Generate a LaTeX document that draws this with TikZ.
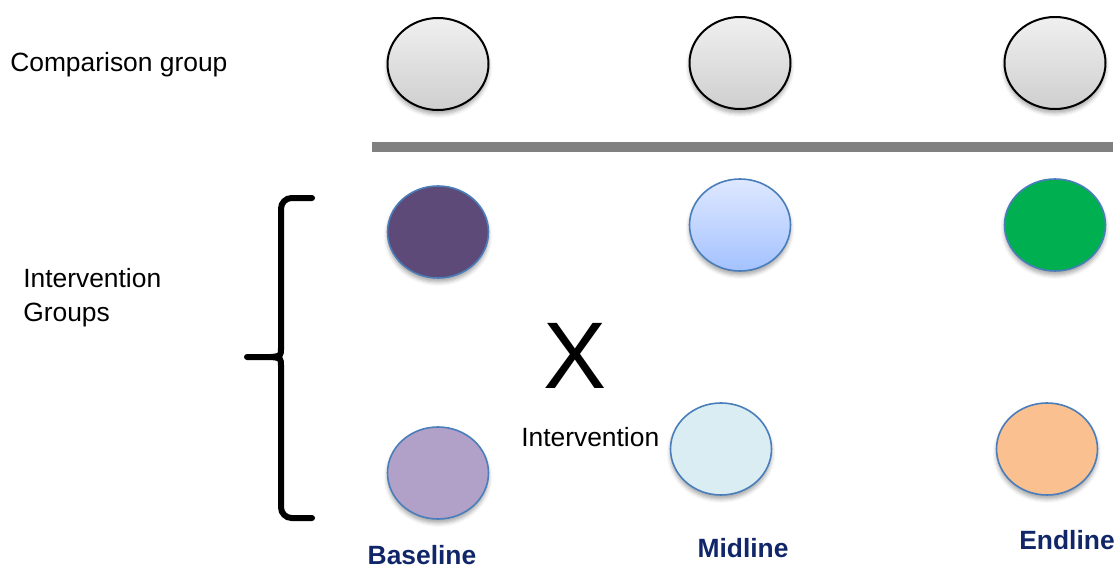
\documentclass[tikz,border=0pt]{standalone}
\usepackage{fontspec}
\setmainfont{Liberation Sans}
\usetikzlibrary{shapes.geometric,shadows.blur}
\definecolor{navy}{RGB}{16,38,104}
\definecolor{rim}{RGB}{74,126,187}
\definecolor{plum}{RGB}{94,74,120}
\definecolor{lavender}{RGB}{177,160,199}
\definecolor{paleblue}{RGB}{218,237,243}
\definecolor{peach}{RGB}{250,192,144}
\definecolor{leaf}{RGB}{0,176,80}
\definecolor{skytop}{RGB}{222,232,255}
\definecolor{skybottom}{RGB}{164,194,255}
\tikzset{
  dot/.style={ellipse, minimum width=75.75pt, minimum height=69pt, inner sep=0pt,
    blur shadow={shadow xshift=0pt, shadow yshift=-3pt, shadow opacity=35, shadow blur radius=3pt}},
  compdot/.style={dot, draw=black, line width=1.5pt, top color=gray!12, bottom color=gray!38},
  intdot/.style={dot, draw=rim, line width=1.2pt},
  lbl/.style={font=\fontsize{19.8}{25.5}\selectfont, inner sep=0pt},
  phase/.style={font=\fontsize{19.8}{24}\selectfont\bfseries, text=navy, inner sep=0pt, anchor=base}
}
\begin{document}
\begin{tikzpicture}[x=0.75pt,y=-0.75pt]
\useasboundingbox (0,0) rectangle (1118,567);

% comparison group row
\node[compdot] (c1) at (438,64) {};
\node[compdot] (c2) at (740,63) {};
\node[compdot] (c3) at (1055,63) {};
\node[lbl, anchor=base west] (ctext) at (10,72) {Comparison group};

% separator
\draw[line width=7.5pt, gray] (372,147) -- (1113,147);

% intervention groups, first row
\node[intdot, fill=plum] (a1) at (438,232) {};
\node[intdot, top color=skytop, bottom color=skybottom] (a2) at (740,225) {};
\node[intdot, fill=leaf] (a3) at (1055,225) {};

% intervention groups, second row
\node[intdot, fill=lavender] (b1) at (438,473) {};
\node[intdot, fill=paleblue] (b2) at (721,449) {};
\node[intdot, fill=peach] (b3) at (1047,449) {};

% brace around the intervention groups
\draw[line width=4.5pt, line cap=round, rounded corners=8pt]
  (312,198) -- (281,198) -- (281,350);
\draw[line width=4.5pt, line cap=round, rounded corners=8pt]
  (281,365) -- (281,518) -- (312,518);
\draw[line width=4.5pt, line cap=round]
  (281,348) .. controls (281,356) .. (271,357) -- (247,357);
\draw[line width=4.5pt]
  (281,366) .. controls (281,358) .. (271,357);

\node[lbl, anchor=base west, align=left] (gtext) at (23,321) {Intervention\\Groups};

% intervention marker
\node[font=\fontsize{71}{80}\selectfont, inner sep=0pt, anchor=base] (x) at (575,388) {X};
\node[lbl, anchor=base west] (itext) at (521,446) {Intervention};

% phase labels
\node[phase] (base) at (422,564) {Baseline};
\node[phase] (mid) at (743,557) {Midline};
\node[phase] (end) at (1067,549) {Endline};
\end{tikzpicture}
\end{document}
